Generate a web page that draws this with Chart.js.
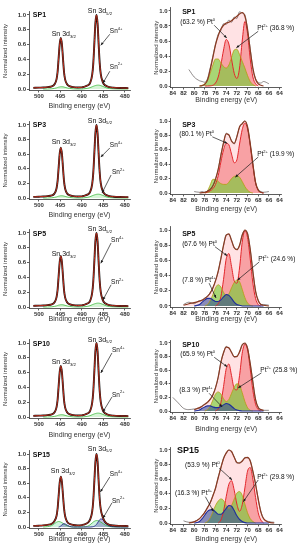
<!DOCTYPE html>
<html><head><meta charset="utf-8">
<script src="https://cdn.jsdelivr.net/npm/chart.js@4.4.1/dist/chart.umd.min.js"></script>
<style>
html,body{margin:0;padding:0;background:#fff;}
body{width:303px;height:550px;position:relative;overflow:hidden;}
canvas{position:absolute;}
</style></head><body>
<script>
// ---------- tick labels ----------
const snTicks = [500, 495, 490, 485, 480];
const ptTicks = [84, 82, 80, 78, 76, 74, 72, 70, 68, 66, 64];
const yTicks = [0, 0.2, 0.4, 0.6, 0.8, 1.0];

// ---------- Sn 3d (left column) ----------
const snX = [501.3,500,499,498,497,496.4,495.9,495.65,495.4,495.15,494.9,494.65,494.4,494.15,493.9,493.4,492.9,492,491,490,489.6,488.6,488.1,487.6,487.35,487.1,486.85,486.6,486.35,486.1,485.85,485.6,485.1,484.6,484.1,483.6,482.6,481,479.2];
const snFit = [0.015,0.018,0.02,0.025,0.035,0.06,0.13,0.23,0.42,0.61,0.69,0.61,0.42,0.23,0.13,0.06,0.04,0.025,0.02,0.022,0.028,0.05,0.08,0.19,0.34,0.61,0.89,1.0,0.89,0.61,0.35,0.2,0.09,0.05,0.035,0.025,0.018,0.014,0.012];
const snSn2 = [null,null,0,0,0.003,0.008,0.015,0.02,0.025,0.028,0.03,0.03,0.029,0.026,0.022,0.014,0.008,0.002,0,0,0.002,0.01,0.018,0.03,0.036,0.042,0.046,0.05,0.052,0.052,0.05,0.046,0.035,0.022,0.012,0.006,0.002,0,0];
const snFitSP15 = [0.015,0.018,0.022,0.03,0.045,0.08,0.15,0.25,0.43,0.61,0.69,0.62,0.44,0.26,0.15,0.07,0.045,0.028,0.022,0.025,0.032,0.06,0.1,0.21,0.36,0.62,0.89,1.0,0.9,0.63,0.38,0.24,0.13,0.07,0.045,0.03,0.02,0.015,0.012];
const snGreenSP15 = [null,null,0,0.005,0.02,0.045,0.065,0.072,0.075,0.073,0.068,0.06,0.05,0.04,0.03,0.015,0.006,0,0,0,0.002,0.012,0.03,0.055,0.068,0.078,0.085,0.088,0.087,0.083,0.076,0.068,0.048,0.028,0.014,0.006,0.002,0,0];
const snNavySP15 = [null,null,null,null,null,null,null,null,0,0.005,0.015,0.028,0.04,0.045,0.042,0.025,0.01,0,0,0,0,0,0,0.002,0.005,0.01,0.02,0.035,0.055,0.08,0.1,0.11,0.1,0.06,0.03,0.012,0.003,0,0];

// ---------- Pt 4f (right column) ----------
const ptX = [84,83,82,81,80,79,78.5,78,77.5,77,76.5,76,75.5,75,74.5,74,73.5,73,72.5,72,71.5,71,70.5,70,69.5,69,68.5,68,67.5,67,66,65,64];
const N = null;
const sp1Exp = [N,N,N,0.22,0.12,0.07,0.06,0.05,0.1,0.24,0.4,0.56,0.69,0.74,0.83,0.82,0.88,0.85,0.92,0.9,0.99,0.97,0.95,0.74,0.5,0.22,0.1,0.05,0.04,0.06,0.03,N,N];
const sp1Env = [N,N,N,N,N,0,0.005,0.025,0.08,0.22,0.38,0.55,0.67,0.76,0.81,0.84,0.85,0.87,0.9,0.93,0.96,0.98,0.93,0.76,0.48,0.24,0.09,0.03,0.01,0,N,N,N];
const sp1Pt0 = [N,N,N,N,N,N,N,0,0,0.002,0.01,0.04,0.12,0.28,0.48,0.62,0.56,0.36,0.17,0.1,0.24,0.6,0.86,0.7,0.36,0.12,0.03,0,N,N,N,N,N];
const sp1Pt2 = [N,N,N,N,N,0,0.01,0.03,0.08,0.17,0.28,0.36,0.36,0.31,0.26,0.24,0.28,0.38,0.48,0.49,0.42,0.33,0.24,0.14,0.06,0.02,0,N,N,N,N,N,N];

const sp3Exp = [N,N,N,N,0.02,0.01,0.02,0.01,0.03,0.05,0.1,0.2,0.32,0.53,0.69,0.83,0.8,0.73,0.68,0.79,0.91,0.97,1.0,0.91,0.68,0.41,0.14,0.05,0.02,0.01,0.02,N,N];
const sp3Env = [N,N,N,N,N,0,0.005,0.01,0.025,0.05,0.1,0.19,0.33,0.52,0.7,0.82,0.81,0.72,0.69,0.78,0.92,0.96,1.0,0.92,0.69,0.4,0.15,0.04,0.01,0,N,N,N];
const sp3Pt0 = [N,N,N,N,N,N,N,0,0.01,0.03,0.06,0.12,0.24,0.43,0.6,0.69,0.67,0.54,0.42,0.46,0.68,0.88,0.97,0.89,0.66,0.38,0.14,0.04,0.01,0,N,N,N];
const sp3Pt2 = [N,N,N,N,N,N,N,0,0.03,0.11,0.19,0.19,0.16,0.13,0.12,0.12,0.15,0.2,0.23,0.24,0.22,0.16,0.09,0.04,0.01,0,N,N,N,N,N,N,N];

const sp5Exp = [N,N,0.02,0.05,0.03,0.07,0.07,0.11,0.12,0.18,0.23,0.34,0.45,0.63,0.79,0.94,0.94,0.87,0.76,0.75,0.79,0.94,0.99,0.96,0.74,0.46,0.19,0.08,0.02,0.02,0.01,N,N];
const sp5Env = [N,N,0.01,0.03,0.045,0.065,0.08,0.1,0.13,0.17,0.24,0.33,0.46,0.62,0.8,0.93,0.95,0.86,0.77,0.74,0.8,0.93,1.0,0.95,0.75,0.45,0.2,0.07,0.02,0.01,0,N,N];
const sp5Pt0 = [N,N,N,N,N,N,N,N,N,N,N,0,0.03,0.12,0.35,0.62,0.69,0.52,0.33,0.3,0.5,0.84,0.99,0.9,0.62,0.3,0.1,0.02,0,N,N,N,N];
const sp5Pt2 = [N,N,N,N,N,N,N,0,0.02,0.07,0.15,0.24,0.28,0.25,0.18,0.14,0.16,0.24,0.31,0.34,0.32,0.22,0.11,0.04,0.01,0,N,N,N,N,N,N,N];
const sp5Pt4 = [N,N,N,N,0,0.02,0.05,0.08,0.1,0.1,0.08,0.06,0.06,0.08,0.12,0.15,0.14,0.1,0.05,0.02,0.01,0,0,0,0,0,0,0,0,0,N,N,N];

const sp10Exp = [0.2,0.12,0.04,0.02,0.03,0.04,0.08,0.1,0.12,0.18,0.23,0.35,0.49,0.72,0.85,0.95,0.92,0.87,0.79,0.81,0.86,0.98,0.99,0.93,0.69,0.43,0.16,0.06,0.02,0.01,0.01,N,N];
const sp10Env = [N,N,N,N,0.02,0.05,0.07,0.1,0.13,0.17,0.24,0.34,0.5,0.71,0.86,0.94,0.93,0.86,0.8,0.8,0.87,0.97,1.0,0.92,0.7,0.42,0.17,0.05,0.02,0.01,N,N,N];
const sp10Pt0 = [N,N,N,N,N,N,N,N,N,N,N,0,0.03,0.12,0.36,0.62,0.69,0.52,0.33,0.31,0.52,0.85,0.98,0.9,0.62,0.3,0.1,0.02,0,N,N,N,N];
const sp10Pt2 = [N,N,N,N,N,N,N,0,0.02,0.07,0.16,0.25,0.28,0.25,0.18,0.14,0.17,0.26,0.35,0.4,0.38,0.27,0.14,0.05,0.01,0,N,N,N,N,N,N,N];
const sp10Pt4 = [N,N,N,N,0,0.015,0.04,0.06,0.075,0.075,0.06,0.05,0.05,0.065,0.09,0.11,0.1,0.07,0.035,0.015,0.005,0,0,0,0,0,0,0,0,0,N,N,N];

const sp15Exp = [N,N,0.03,0.01,0.02,0.06,0.1,0.15,0.22,0.27,0.38,0.47,0.63,0.75,0.89,0.95,1.0,0.97,0.91,0.82,0.83,0.84,0.9,0.89,0.86,0.7,0.54,0.32,0.16,0.06,0.02,0.01,N];
const sp15Env = [N,N,N,0,0.015,0.06,0.1,0.15,0.21,0.28,0.37,0.48,0.62,0.76,0.88,0.96,1.0,0.98,0.9,0.83,0.82,0.85,0.89,0.9,0.85,0.71,0.53,0.33,0.15,0.06,0.01,0,N];
const sp15Pt0 = [N,N,N,N,N,N,N,N,N,N,N,N,0,0.04,0.16,0.36,0.53,0.58,0.45,0.26,0.16,0.25,0.48,0.71,0.76,0.6,0.35,0.14,0.04,0,N,N,N];
const sp15Pt2 = [N,N,N,N,N,N,N,0,0.02,0.07,0.15,0.24,0.3,0.33,0.31,0.24,0.2,0.24,0.33,0.41,0.43,0.38,0.26,0.14,0.06,0.02,0,N,N,N,N,N,N];
const sp15Pt4 = [N,N,N,N,0,0.02,0.06,0.11,0.16,0.18,0.18,0.15,0.12,0.12,0.15,0.2,0.24,0.23,0.17,0.1,0.05,0.02,0.005,0,0,0,0,0,0,0,0,N,N];

// ---------- helpers ----------
const FAM = "'Liberation Sans', Arial, sans-serif";
const xy = (xs, ys) => xs.map((x, i) => ({x: x, y: ys[i]}));

function richText(ctx, x, y, parts, size, bold, align, color) {
  const w = bold ? 'bold ' : '';
  let total = 0;
  const segs = parts.map(p => {
    const s = p[1] ? size * 0.62 : size;
    ctx.font = w + s + 'px ' + FAM;
    const wd = ctx.measureText(p[0]).width;
    total += wd;
    return {txt: p[0], s: s, wd: wd, dy: p[1] === 'sup' ? -size * 0.38 : (p[1] === 'sub' ? size * 0.3 : 0)};
  });
  let cx = align === 'center' ? x - total / 2 : x;
  ctx.fillStyle = color; ctx.textBaseline = 'middle'; ctx.textAlign = 'left';
  segs.forEach(g => { ctx.font = w + g.s + 'px ' + FAM; ctx.fillText(g.txt, cx, y + g.dy); cx += g.wd; });
}
function arrow(ctx, x1, y1, x2, y2) {
  ctx.save();
  ctx.strokeStyle = '#1a1a1a'; ctx.lineWidth = 0.7;
  ctx.beginPath(); ctx.moveTo(x1, y1); ctx.lineTo(x2, y2); ctx.stroke();
  const a = Math.atan2(y2 - y1, x2 - x1), L = 3, W = 1.3;
  ctx.beginPath(); ctx.moveTo(x2, y2);
  ctx.lineTo(x2 - L * Math.cos(a) + W * Math.sin(a), y2 - L * Math.sin(a) - W * Math.cos(a));
  ctx.lineTo(x2 - L * Math.cos(a) - W * Math.sin(a), y2 - L * Math.sin(a) + W * Math.cos(a));
  ctx.closePath(); ctx.fillStyle = '#1a1a1a'; ctx.fill();
  ctx.restore();
}
const annotPlugin = {
  id: 'annot',
  afterDraw(chart, args, opts) {
    const ctx = chart.ctx, xs = chart.scales.x, ys = chart.scales.y;
    (opts.items || []).forEach(it => {
      if (it.line) {
        arrow(ctx, xs.getPixelForValue(it.line[0]), ys.getPixelForValue(it.line[1]),
                   xs.getPixelForValue(it.line[2]), ys.getPixelForValue(it.line[3]));
      } else {
        richText(ctx, xs.getPixelForValue(it.x), ys.getPixelForValue(it.y), it.t, it.size || 6.5, !!it.bold, it.align || 'left', '#111');
      }
    });
  }
};

function makePanel(p) {
  const [bx, by, bw, bh] = p.box;
  const cv = document.createElement('canvas');
  cv.width = bw; cv.height = bh;
  cv.style.left = bx + 'px'; cv.style.top = by + 'px';
  cv.style.width = bw + 'px'; cv.style.height = bh + 'px';
  document.body.appendChild(cv);
  const span = p.Y0 - p.Y1;
  const T = p.Y1 - (p.yMax - 1) * span;
  const B = p.Y0 - p.yMin * span;
  const padTop = T - by;
  const xH = by + bh - B;
  const yW = p.L - bx;
  const padRight = bx + bw - p.R;
  const pb = by + bh - p.titleY - 4.2;
  new Chart(cv, {
    type: 'line',
    data: {datasets: p.datasets},
    plugins: [annotPlugin],
    options: {
      responsive: false, animation: false, devicePixelRatio: 1,
      layout: {padding: {top: padTop, right: padRight, bottom: 0, left: 0}},
      plugins: {legend: {display: false}, tooltip: {enabled: false},
        filler: {drawTime: 'beforeDatasetsDraw'}, annot: {items: p.ann}},
      elements: {point: {radius: 0}, line: {cubicInterpolationMode: 'monotone'}},
      scales: {
        x: {type: 'linear', reverse: true, min: p.xMin, max: p.xMax,
          afterFit: s => { s.height = xH; },
          afterBuildTicks: s => { s.ticks = p.xTicks.map(v => ({value: v})); },
          ticks: {autoSkip: false, maxRotation: 0, minRotation: 0, padding: 0, color: '#333',
            font: {family: FAM, size: 6, weight: 'bold'}, callback: v => String(v)},
          grid: {drawOnChartArea: false, drawTicks: true, tickLength: 2, color: '#333', lineWidth: 0.8},
          border: {display: true, color: '#333', width: 0.8},
          title: {display: true, text: 'Binding energy (eV)', color: '#333',
            font: {family: FAM, size: 7}, padding: {top: 0, bottom: pb}}
        },
        y: {type: 'linear', min: p.yMin, max: p.yMax,
          afterFit: s => { s.width = yW; },
          afterBuildTicks: s => { s.ticks = yTicks.map(v => ({value: v})); },
          ticks: {autoSkip: false, padding: 1, color: '#333',
            font: {family: FAM, size: 6, weight: 'bold'}, callback: v => v.toFixed(1)},
          grid: {drawOnChartArea: false, drawTicks: true, tickLength: 2, color: '#333', lineWidth: 0.8},
          border: {display: true, color: '#333', width: 0.8},
          title: {display: true, text: 'Normalized intensity', color: '#333',
            font: {family: FAM, size: 6}, padding: {top: p.yTitlePad, bottom: 0}}
        }
      }
    }
  });
}

function snDatasets(fit, exp, extra) {
  const ds = [
    {data: xy(snX, fit), borderColor: '#d6321e', borderWidth: 0.9, fill: false},
    {data: xy(snX, exp), borderColor: '#111', borderWidth: 1.9, fill: false}
  ];
  extra.forEach(e => ds.push(e));
  return ds;
}
function snGreen(arr) {
  return {data: xy(snX, arr), borderColor: '#3dbb3d', borderWidth: 0.8, fill: 'origin', backgroundColor: 'rgba(120,220,120,0.3)'};
}
function ptDatasets(exp, env, pt0, pt2, pt4) {
  const ds = [
    {data: xy(ptX, env), borderColor: '#8a3a22', borderWidth: 1.2, fill: false},
    {data: xy(ptX, exp), borderColor: 'rgba(70,60,60,0.85)', borderWidth: 0.7, fill: false}
  ];
  if (pt4) ds.push({data: xy(ptX, pt4), borderColor: '#1f2e9c', borderWidth: 1.1, fill: 'origin', backgroundColor: 'rgba(40,70,150,0.55)'});
  ds.push({data: xy(ptX, pt2), borderColor: '#b89c10', borderWidth: 0.8, fill: 'origin', backgroundColor: 'rgba(115,205,50,0.62)'});
  ds.push({data: xy(ptX, pt0), borderColor: '#e3262b', borderWidth: 1, fill: 'origin', backgroundColor: 'rgba(242,95,100,0.5)'});
  ds.push({data: xy(ptX, env), borderColor: 'rgba(0,0,0,0)', borderWidth: 0, fill: 'origin', backgroundColor: 'rgba(255,180,185,0.38)'});
  return ds;
}
function snAnn(name, d52y, d32y, s4, s4line, s2, s2line) {
  return [
    {t: [[name]], x: 501.4, y: name.y, bold: true, size: 7},
    {t: [['Sn 3d'], ['5/2', 'sub']], x: 485.8, y: d52y, size: 7, align: 'center'},
    {t: [['Sn 3d'], ['3/2', 'sub']], x: 494.2, y: d32y, size: 7, align: 'center'},
    {t: [['Sn'], ['4+', 'sup']], x: s4[0], y: s4[1], size: 6.5},
    {line: s4line},
    {t: [['Sn'], ['2+', 'sup']], x: s2[0], y: s2[1], size: 6.5},
    {line: s2line}
  ];
}
function ptAnn(name, nameY, nameSize, p0, p0label, p0line, p2, p2label, p2line, p4, p4label, p4line) {
  const a = [
    {t: [[name]], x: name === 'SP15' ? 83.2 : 82.25, y: nameY, bold: true, size: nameSize},
    {t: [['(' + p0label + ' %) Pt'], ['0', 'sup']], x: p0[0], y: p0[1], size: 6.5},
    {line: p0line},
    {t: [['Pt'], ['2+', 'sup'], [' (' + p2label + ' %)']], x: p2[0], y: p2[1], size: 6.5},
    {line: p2line}
  ];
  if (p4) {
    a.push({t: [['(' + p4label + ' %) Pt'], ['4+', 'sup']], x: p4[0], y: p4[1], size: 6.5});
    a.push({line: p4line});
  }
  return a;
}

const leftBase = {L: 29, R: 130, xMin: 478.8, xMax: 502.3, yMin: -0.02, yMax: 1.05, xTicks: snTicks, yTitlePad: 1.4};
const rightBase = {L: 170.7, R: 281.7, xMin: 63.6, xMax: 84.4, yMin: -0.02, yMax: 1.04, xTicks: ptTicks, yTitlePad: 2.4};

function snName(n, y) { const s = new String(n); s.y = y; return s; }

const panels = [
  Object.assign({}, leftBase, {box: [0, 0, 150, 110], Y1: 15, Y0: 89, titleY: 106,
    datasets: snDatasets(snFit, snFit, [snGreen(snSn2)]),
    ann: [
      {t: [['SP1']], x: 501.4, y: 1.0, bold: true, size: 7},
      {t: [['Sn 3d'], ['5/2', 'sub']], x: 485.8, y: 1.05, size: 7, align: 'center'},
      {t: [['Sn 3d'], ['3/2', 'sub']], x: 494.2, y: 0.74, size: 7, align: 'center'},
      {t: [['Sn'], ['4+', 'sup']], x: 483.5, y: 0.78, size: 6.5},
      {line: [483.5, 0.74, 485.6, 0.59]},
      {t: [['Sn'], ['2+', 'sup']], x: 483.5, y: 0.30, size: 6.5},
      {line: [483.5, 0.24, 485.1, 0.08]}
    ]}),
  Object.assign({}, leftBase, {box: [0, 110, 150, 110], Y1: 125, Y0: 198, titleY: 215,
    datasets: snDatasets(snFit, snFit, [snGreen(snSn2)]),
    ann: [
      {t: [['SP3']], x: 501.4, y: 1.0, bold: true, size: 7},
      {t: [['Sn 3d'], ['5/2', 'sub']], x: 485.8, y: 1.06, size: 7, align: 'center'},
      {t: [['Sn 3d'], ['3/2', 'sub']], x: 494.2, y: 0.76, size: 7, align: 'center'},
      {t: [['Sn'], ['4+', 'sup']], x: 483.5, y: 0.72, size: 6.5},
      {line: [483.5, 0.685, 485.6, 0.56]},
      {t: [['Sn'], ['2+', 'sup']], x: 483.0, y: 0.35, size: 6.5},
      {line: [483.2, 0.315, 485.3, 0.07]}
    ]}),
  Object.assign({}, leftBase, {box: [0, 220, 150, 110], Y1: 233, Y0: 307, titleY: 319,
    datasets: snDatasets(snFit, snFit, [snGreen(snSn2)]),
    ann: [
      {t: [['SP5']], x: 501.4, y: 0.99, bold: true, size: 7},
      {t: [['Sn 3d'], ['5/2', 'sub']], x: 485.8, y: 1.05, size: 7, align: 'center'},
      {t: [['Sn 3d'], ['3/2', 'sub']], x: 494.2, y: 0.71, size: 7, align: 'center'},
      {t: [['Sn'], ['4+', 'sup']], x: 483.2, y: 0.9, size: 6.5},
      {line: [483.2, 0.865, 485.6, 0.59]},
      {t: [['Sn'], ['2+', 'sup']], x: 483.2, y: 0.33, size: 6.5},
      {line: [483.2, 0.3, 485.1, 0.095]}
    ]}),
  Object.assign({}, leftBase, {box: [0, 330, 150, 110], Y1: 343, Y0: 417, titleY: 435,
    datasets: snDatasets(snFit, snFit, [snGreen(snSn2)]),
    ann: [
      {t: [['SP10']], x: 501.4, y: 0.98, bold: true, size: 7},
      {t: [['Sn 3d'], ['5/2', 'sub']], x: 485.8, y: 1.04, size: 7, align: 'center'},
      {t: [['Sn 3d'], ['3/2', 'sub']], x: 494.2, y: 0.74, size: 7, align: 'center'},
      {t: [['Sn'], ['4+', 'sup']], x: 483.0, y: 0.9, size: 6.5},
      {line: [483.0, 0.865, 485.6, 0.595]},
      {t: [['Sn'], ['2+', 'sup']], x: 483.0, y: 0.3, size: 6.5},
      {line: [483.0, 0.27, 485.1, 0.07]}
    ]}),
  Object.assign({}, leftBase, {box: [0, 440, 150, 110], Y1: 454, Y0: 527, titleY: 539,
    datasets: snDatasets(snFitSP15, snFitSP15, [
      {data: xy(snX, snNavySP15), borderColor: '#2b2f8f', borderWidth: 0.9, fill: 'origin', backgroundColor: 'rgba(70,60,170,0.35)'},
      {data: xy(snX, snGreenSP15), borderColor: '#3dbb3d', borderWidth: 0.8, fill: 'origin', backgroundColor: 'rgba(120,220,170,0.35)'}
    ]),
    ann: [
      {t: [['SP15']], x: 501.4, y: 0.99, bold: true, size: 7},
      {t: [['Sn 3d'], ['5/2', 'sub']], x: 485.8, y: 1.07, size: 7, align: 'center'},
      {t: [['Sn 3d'], ['3/2', 'sub']], x: 494.4, y: 0.76, size: 7, align: 'center'},
      {t: [['Sn'], ['4+', 'sup']], x: 483.5, y: 0.72, size: 6.5},
      {line: [483.5, 0.685, 485.7, 0.48]},
      {t: [['Sn'], ['2+', 'sup']], x: 483.0, y: 0.36, size: 6.5},
      {line: [483.0, 0.33, 485.1, 0.12]}
    ]}),

  Object.assign({}, rightBase, {box: [150, 0, 153, 110], Y1: 11, Y0: 86, titleY: 100,
    datasets: ptDatasets(sp1Exp, sp1Env, sp1Pt0, sp1Pt2, null),
    ann: ptAnn('SP1', 0.98, 7, [82.6, 0.85], '63.2', [76.25, 0.81, 73.9, 0.64],
      [68.2, 0.77], '36.8', [68.0, 0.73, 72.1, 0.51])}),
  Object.assign({}, rightBase, {box: [150, 110, 153, 110], Y1: 121, Y0: 193, titleY: 209,
    datasets: ptDatasets(sp3Exp, sp3Env, sp3Pt0, sp3Pt2, null),
    ann: ptAnn('SP3', 0.94, 7, [82.8, 0.815], '80.1', [76.6, 0.78, 73.8, 0.69],
      [68.2, 0.535], '19.9', [68.0, 0.5, 72.3, 0.22])}),
  Object.assign({}, rightBase, {box: [150, 220, 153, 110], Y1: 230, Y0: 306, titleY: 319,
    datasets: ptDatasets(sp5Exp, sp5Env, sp5Pt0, sp5Pt2, sp5Pt4),
    ann: ptAnn('SP5', 0.94, 7, [82.25, 0.81], '67.6', [76.1, 0.78, 73.8, 0.66],
      [68.0, 0.61], '24.6', [67.8, 0.58, 71.9, 0.34],
      [82.25, 0.335], '7.8', [77.2, 0.3, 75.9, 0.105])}),
  Object.assign({}, rightBase, {box: [150, 330, 153, 110], Y1: 343, Y0: 411, titleY: 429,
    datasets: ptDatasets(sp10Exp, sp10Env, sp10Pt0, sp10Pt2, sp10Pt4),
    ann: ptAnn('SP10', 0.97, 7, [82.6, 0.83], '65.9', [76.25, 0.79, 73.8, 0.65],
      [67.6, 0.6], '25.8', [67.4, 0.56, 71.75, 0.34],
      [82.8, 0.3], '8.3', [77.2, 0.26, 74.75, 0.06])}),
  Object.assign({}, rightBase, {box: [150, 440, 153, 110], Y1: 450, Y0: 523, titleY: 539,
    datasets: ptDatasets(sp15Exp, sp15Env, sp15Pt0, sp15Pt2, sp15Pt4),
    ann: ptAnn('SP15', 0.99, 9, [81.7, 0.79], '53.9', [75.3, 0.75, 72.9, 0.59],
      [68.2, 0.63], '29.8', [68.0, 0.59, 70.8, 0.29],
      [83.6, 0.405], '16.3', [77.9, 0.36, 76.4, 0.16])})
];

panels.forEach(makePanel);
</script>
</body></html>
